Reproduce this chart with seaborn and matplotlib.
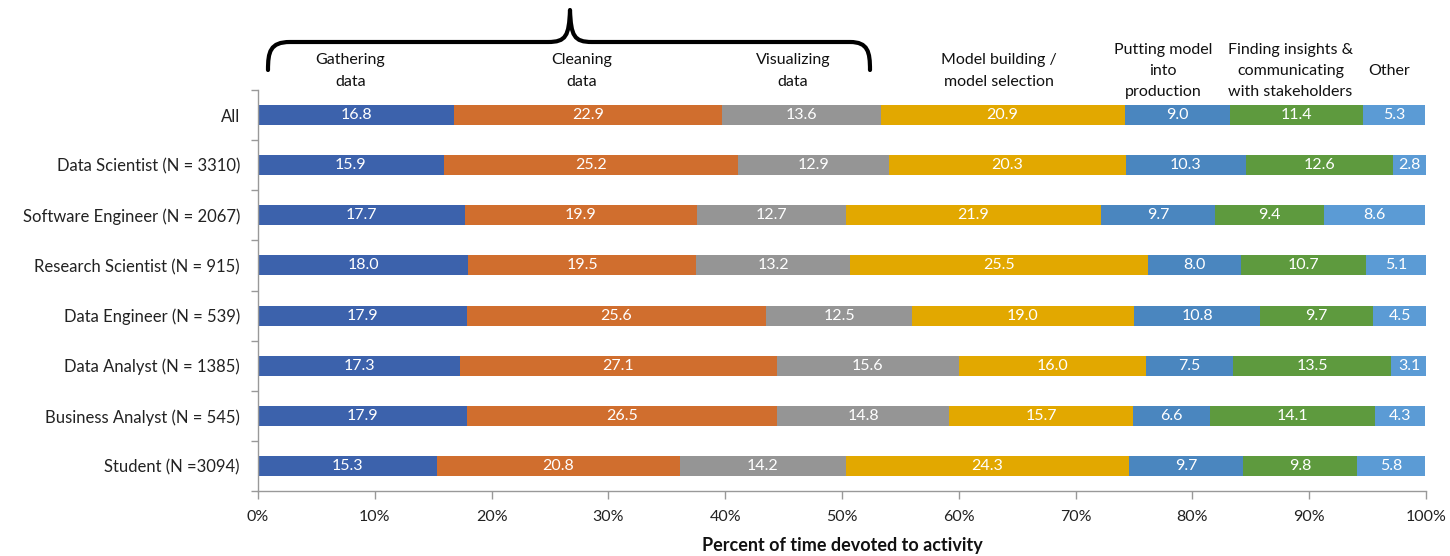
import numpy as np
import pandas as pd
import matplotlib
matplotlib.use("Agg")
import matplotlib.pyplot as plt
from matplotlib.path import Path
from matplotlib.patches import PathPatch
from matplotlib.ticker import FixedLocator, PercentFormatter
import seaborn as sns

# ---- data -------------------------------------------------------------
roles = [
    "All",
    "Data Scientist (N = 3310)",
    "Software Engineer (N = 2067)",
    "Research Scientist (N = 915)",
    "Data Engineer (N = 539)",
    "Data Analyst (N = 1385)",
    "Business Analyst (N = 545)",
    "Student (N =3094)",
]
activities = [
    "Gathering\ndata",
    "Cleaning\ndata",
    "Visualizing\ndata",
    "Model building /\nmodel selection",
    "Putting model\ninto\nproduction",
    "Finding insights &\ncommunicating\nwith stakeholders",
    "Other",
]
gathering = [16.8, 15.9, 17.7, 18.0, 17.9, 17.3, 17.9, 15.3]
cleaning = [22.9, 25.2, 19.9, 19.5, 25.6, 27.1, 26.5, 20.8]
visualizing = [13.6, 12.9, 12.7, 13.2, 12.5, 15.6, 14.8, 14.2]
modeling = [20.9, 20.3, 21.9, 25.5, 19.0, 16.0, 15.7, 24.3]
production = [9.0, 10.3, 9.7, 8.0, 10.8, 7.5, 6.6, 9.7]
insights = [11.4, 12.6, 9.4, 10.7, 9.7, 13.5, 14.1, 9.8]
other = [5.3, 2.8, 8.6, 5.1, 4.5, 3.1, 4.3, 5.8]

colors = ["#3C62AC", "#D06E2E", "#959595", "#E2A800",
          "#4A86BF", "#5E9A3E", "#5B9BD5"]

# ---- styling ----------------------------------------------------------
sns.set_theme(style="white")
plt.rcParams["font.family"] = ["Lato", "DejaVu Sans"]

W, H = 1450, 556
fig = plt.figure(figsize=(W / 100, H / 100), dpi=100)
ax = fig.add_axes([258 / W, 1 - 491 / H, (1426 - 258) / W, (491 - 90) / H])

series = [gathering, cleaning, visualizing, modeling, production, insights, other]
values = np.array(series)            # shape (activity, role)
cum = np.cumsum(values, axis=0)
starts = cum - values

df = pd.DataFrame({"role": roles})
# stacked bars: draw the longest cumulative totals first, shorter ones on top
for k in range(len(series) - 1, -1, -1):
    df["total"] = cum[k]
    sns.barplot(data=df, x="total", y="role", orient="h", color=colors[k],
                saturation=1, width=0.4, errorbar=None, ax=ax, order=roles,
                linewidth=0)

# value labels in each segment
for k in range(len(series)):
    for i in range(len(roles)):
        ax.text(starts[k, i] + values[k, i] / 2, i, f"{values[k, i]:.1f}",
                ha="center", va="center", color="white", fontsize=11.5)

ax.set_xlim(0, 100)
ax.set_ylim(len(roles) - 0.5, -0.5)
ax.xaxis.set_major_locator(FixedLocator(np.arange(0, 101, 10)))
ax.xaxis.set_major_formatter(PercentFormatter(decimals=0))
ax.set_xlabel("Percent of time devoted to activity", fontsize=13,
              fontweight="bold", color="#111111", labelpad=9)
ax.set_ylabel("")

ax.set_yticks(np.arange(len(roles)))
ax.set_yticklabels(roles, fontsize=12, color="#222222")
ax.set_yticks(np.arange(-0.5, len(roles)), minor=True)
ax.tick_params(axis="y", which="major", length=0, pad=13)
ax.tick_params(axis="y", which="minor", length=5, width=1, color="#999999",
               direction="out", left=True)
ax.tick_params(axis="x", which="major", length=6, width=1, color="#999999",
               direction="out", bottom=True, labelsize=11.5, labelcolor="#222222",
               pad=8)

for side in ["top", "right"]:
    ax.spines[side].set_visible(False)
for side in ["left", "bottom"]:
    ax.spines[side].set_color("#999999")
    ax.spines[side].set_linewidth(1)
ax.grid(False)

# column headers above the bars, centred on the segments of the "All" row
centres = starts[:, 0] + values[:, 0] / 2
header_shift = [-0.5, -0.5, -0.7, -0.3, -1.2, -0.5, -0.4]
for k, label in enumerate(activities):
    ax.text(centres[k] + header_shift[k], -0.88, label, ha="center",
            va="center", fontsize=11.5, color="#111111", linespacing=1.65,
            clip_on=False)

# curly brace spanning the data-preparation activities
def px(x, y):
    return (x / W, 1 - y / H)

verts = [
    px(268, 70), px(268, 52), px(270, 42), px(290, 42),
    px(548, 42),
    px(566, 42), px(569, 36), px(570, 10),
    px(571, 36), px(574, 42), px(592, 42),
    px(850, 42),
    px(868, 42), px(870, 52), px(870, 70),
]
codes = [Path.MOVETO, Path.CURVE4, Path.CURVE4, Path.CURVE4,
         Path.LINETO,
         Path.CURVE4, Path.CURVE4, Path.CURVE4,
         Path.CURVE4, Path.CURVE4, Path.CURVE4,
         Path.LINETO,
         Path.CURVE4, Path.CURVE4, Path.CURVE4]
brace = PathPatch(Path(verts, codes), transform=fig.transFigure,
                  fill=False, lw=3, edgecolor="black", capstyle="round",
                  joinstyle="round")
fig.patches.append(brace)

fig.savefig("out.png", dpi=100)
